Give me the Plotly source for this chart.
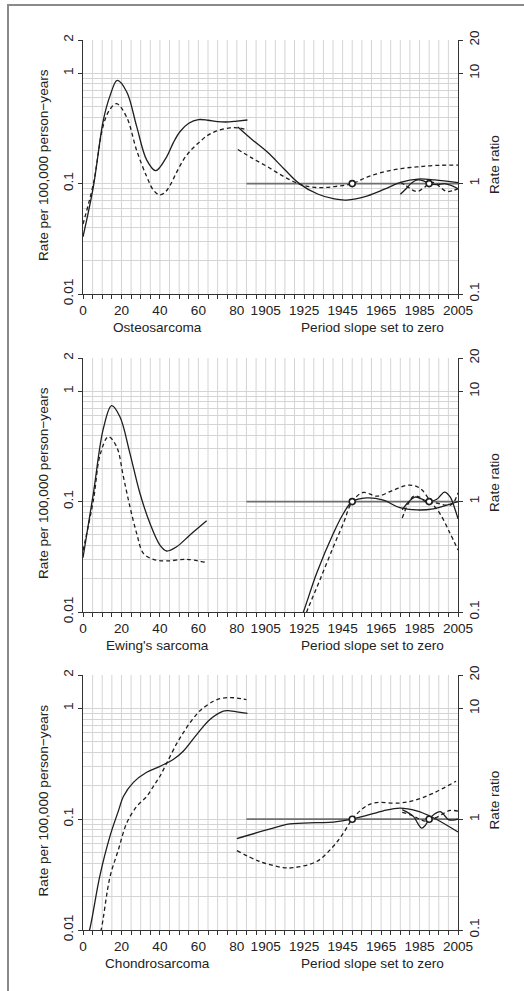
import plotly.graph_objects as go

# ---------------- data ----------------
age_ticks = [0, 20, 40, 60, 80]
year_ticks = [1905, 1925, 1945, 1965, 1985, 2005]
rate_ticks = [0.01, 0.1, 1, 2]
rate_tick_text = ["0.01", "0.1", "1", "2"]
rr_ticks = [0.1, 1, 10, 20]
rr_tick_text = ["0.1", "1", "10", "20"]
ref_years = [1950, 1990]          # cohort and period reference points
ref_span = [1895, 2005]           # extent of the rate-ratio = 1 line

panel_names = ["Osteosarcoma", "Ewing's sarcoma", "Chondrosarcoma"]
right_caption = "Period slope set to zero"
rate_title = "Rate per 100,000 person\u2212years"
rr_title = "Rate ratio"

# Osteosarcoma: age (rate), cohort and period (rate ratio); a = solid, b = dashed
os_age_a_x = [0, 5.4, 10.6, 14, 17.8, 22.7, 27.9, 33.1, 37.8, 43.5, 47, 50.4, 55, 60, 65, 70, 76, 80, 85.5]
os_age_a_y = [0.033, 0.094, 0.377, 0.62, 0.86, 0.68, 0.33, 0.164, 0.131, 0.175, 0.235, 0.295, 0.352, 0.38, 0.375, 0.364, 0.362, 0.368, 0.377]
os_age_b_x = [0, 5.4, 10.6, 14, 17.5, 22.7, 27.9, 33.1, 36.5, 39.7, 42.5, 45.2, 48.5, 52.2, 56, 60.8, 65, 69.5, 76.4, 80.8, 85.6]
os_age_b_y = [0.043, 0.10, 0.34, 0.47, 0.53, 0.40, 0.20, 0.116, 0.088, 0.079, 0.083, 0.096, 0.125, 0.164, 0.2, 0.24, 0.275, 0.3, 0.32, 0.32, 0.306]
os_coh_a_x = [1890.5, 1898, 1906, 1914.7, 1922.5, 1932, 1940.7, 1947, 1958, 1966.8, 1975.5, 1984.2, 1992.9, 2005]
os_coh_a_y = [3.26, 2.5, 1.92, 1.35, 1.0, 0.805, 0.726, 0.71, 0.776, 0.89, 1.03, 1.10, 1.08, 1.02]
os_coh_b_x = [1890.5, 1898, 1906, 1914.7, 1923.4, 1932, 1940.7, 1950, 1958, 1966.8, 1975.5, 1984.2, 1992.9, 2005]
os_coh_b_y = [2.04, 1.7, 1.42, 1.15, 0.98, 0.92, 0.94, 1.0, 1.15, 1.28, 1.37, 1.42, 1.46, 1.47]
os_per_a_x = [1975, 1978, 1981, 1984, 1987, 1990, 1994, 1998, 2001, 2005]
os_per_a_y = [0.80, 0.90, 1.02, 1.08, 1.06, 1.0, 0.98, 1.0, 0.97, 0.9]
os_per_b_x = [1975, 1978, 1981, 1984, 1987, 1990, 1993, 1996, 1999, 2002, 2005]
os_per_b_y = [1.03, 0.96, 0.88, 0.85, 0.91, 1.0, 1.02, 0.92, 0.85, 0.86, 0.9]

# Ewing's sarcoma
ew_age_a_x = [0, 5.4, 10.6, 14.9, 19.2, 24.4, 29.6, 34.8, 40, 43.5, 48.7, 55.6, 64.3]
ew_age_a_y = [0.031, 0.119, 0.46, 0.74, 0.587, 0.274, 0.119, 0.0636, 0.0404, 0.0357, 0.039, 0.0498, 0.067]
ew_age_b_x = [0, 5.4, 9, 13.2, 17.5, 21, 24.4, 27.9, 31.4, 36.6, 43.5, 53.9, 64.3]
ew_age_b_y = [0.036, 0.103, 0.27, 0.387, 0.314, 0.168, 0.090, 0.0516, 0.034, 0.030, 0.029, 0.030, 0.028]
ew_coh_a_x = [1918, 1924.6, 1931.5, 1940.2, 1945.4, 1950, 1957.5, 1966.2, 1974.8, 1983.5, 1992.2, 2000.9, 2005]
ew_coh_a_y = [0.05, 0.1, 0.224, 0.516, 0.78, 1.0, 1.08, 1.03, 0.88, 0.84, 0.86, 0.95, 1.0]
ew_coh_b_x = [1920, 1926.3, 1933.2, 1940.2, 1945.4, 1950, 1955.8, 1962.8, 1971.4, 1979.2, 1985.3, 1991.3, 1995.6, 2000.8, 2005]
ew_coh_b_y = [0.05, 0.1, 0.195, 0.39, 0.635, 1.0, 1.21, 1.12, 1.27, 1.41, 1.32, 0.97, 0.78, 0.52, 0.365]
ew_per_a_x = [1976, 1979, 1982.6, 1986, 1990, 1994, 1998, 2001, 2003, 2005]
ew_per_a_y = [0.84, 0.98, 1.1, 1.06, 1.0, 1.05, 1.22, 1.1, 0.9, 0.7]
ew_per_b_x = [1976, 1979, 1982, 1985, 1988, 1990, 1994, 1998, 2001, 2003, 2005]
ew_per_b_y = [0.71, 0.95, 1.12, 1.1, 1.0, 1.0, 0.97, 0.93, 0.93, 1.0, 1.2]

# Chondrosarcoma
ch_age_a_x = [2, 3.4, 8.8, 14, 18.5, 21, 26.2, 33.1, 40, 46.9, 52.1, 59.1, 66, 73, 76.4, 80, 85.5]
ch_age_a_y = [0.0085, 0.01, 0.031, 0.07, 0.12, 0.16, 0.215, 0.265, 0.30, 0.345, 0.41, 0.58, 0.795, 0.946, 0.95, 0.93, 0.90]
ch_age_b_x = [8, 9.4, 14, 18.4, 22.7, 27.9, 33.1, 36.6, 40, 43.5, 48.7, 52.1, 55.6, 60.8, 67.8, 72, 76.4, 80, 85]
ch_age_b_y = [0.0085, 0.01, 0.030, 0.053, 0.092, 0.13, 0.16, 0.198, 0.244, 0.32, 0.48, 0.60, 0.74, 0.95, 1.16, 1.23, 1.25, 1.24, 1.2]
ch_coh_a_x = [1890, 1905.5, 1917.6, 1931.5, 1940.2, 1950, 1957.5, 1966.2, 1974.8, 1983.5, 1992.2, 2005]
ch_coh_a_y = [0.667, 0.80, 0.905, 0.93, 0.94, 1.0, 1.08, 1.19, 1.26, 1.19, 1.03, 0.766]
ch_coh_b_x = [1890, 1902, 1914, 1919.2, 1931.5, 1940.2, 1945.4, 1950, 1955.8, 1961, 1974.8, 1983.5, 1992.2, 2004]
ch_coh_b_y = [0.52, 0.415, 0.366, 0.365, 0.415, 0.57, 0.75, 1.0, 1.26, 1.40, 1.40, 1.5, 1.72, 2.2]
ch_per_a_x = [1976, 1981.8, 1984, 1986.1, 1988, 1990, 1993, 1995.8, 1998, 2000, 2002.5, 2005]
ch_per_a_y = [1.22, 1.06, 0.92, 0.83, 0.88, 1.0, 1.12, 1.17, 1.08, 0.99, 0.98, 1.0]
ch_per_b_x = [1976, 1980, 1984, 1988, 1990, 1994, 1998, 2001, 2005]
ch_per_b_y = [1.15, 1.1, 1.02, 0.96, 1.0, 1.04, 1.14, 1.2, 1.18]

panels = [
    dict(age=[(os_age_a_x, os_age_a_y), (os_age_b_x, os_age_b_y)],
         cal=[(os_coh_a_x, os_coh_a_y), (os_coh_b_x, os_coh_b_y),
              (os_per_a_x, os_per_a_y), (os_per_b_x, os_per_b_y)]),
    dict(age=[(ew_age_a_x, ew_age_a_y), (ew_age_b_x, ew_age_b_y)],
         cal=[(ew_coh_a_x, ew_coh_a_y), (ew_coh_b_x, ew_coh_b_y),
              (ew_per_a_x, ew_per_a_y), (ew_per_b_x, ew_per_b_y)]),
    dict(age=[(ch_age_a_x, ch_age_a_y), (ch_age_b_x, ch_age_b_y)],
         cal=[(ch_coh_a_x, ch_coh_a_y), (ch_coh_b_x, ch_coh_b_y),
              (ch_per_a_x, ch_per_a_y), (ch_per_b_x, ch_per_b_y)]),
]

# ---------------- layout geometry (pixels) ----------------
W, H = 524, 991
PX_L, PX_R = 83, 458
PX_T, PX_B = 40, 930
panel_top = [40, 358, 675]
panel_bot = [294, 612, 930]
AGE_RANGE = [0, 195]
CAL_RANGE = [1810, 2005]
RATE_RANGE = [0.01, 2]

FONT = "Liberation Sans, Arial, Helvetica, sans-serif"
FS = 13.6
INK = "#222222"
GRID = "#d4d4d4"
LINE = "#1e1e1e"


def fx(px):
    return (px - PX_L) / (PX_R - PX_L)


def fy(py):
    return 1 - (py - PX_T) / (PX_B - PX_T)


def axis_id(letter, n):
    return letter if n == 1 else f"{letter}{n}"


rate_grid = [m * 10 ** e for e in (-2, -1) for m in range(2, 10)]
age_grid = list(range(0, 81, 5))
cal_grid = list(range(1895, 2006, 5))
# vertical grid every 5 units across the whole frame (age part + calendar part)
frame_grid = list(range(AGE_RANGE[0] + 5, AGE_RANGE[1], 5))

fig = go.Figure()
layout = dict(
    width=W, height=H,
    margin=dict(l=PX_L, r=W - PX_R, t=PX_T, b=H - PX_B, pad=0),
    paper_bgcolor="white", plot_bgcolor="white",
    showlegend=False,
    font=dict(family=FONT, size=FS, color=INK),
)
annotations = []
shapes = []

tick_common = dict(ticks="outside", ticklen=4, tickwidth=1, tickcolor="#333333",
                   tickfont=dict(family=FONT, size=FS, color=INK), zeroline=False)

for p, pan in enumerate(panels):
    a, c = 2 * p + 1, 2 * p + 2
    xa, xc = axis_id("x", a), axis_id("x", c)
    ya, yc = axis_id("y", a), axis_id("y", c)
    dom = [fy(panel_bot[p]), fy(panel_top[p])]

    layout[f"xaxis{a}"] = dict(
        domain=[0, 1], range=AGE_RANGE, anchor=ya,
        tickmode="array", tickvals=age_grid,
        ticktext=[str(v) if v in age_ticks else "" for v in age_grid],
        tickangle=0, showline=True, linecolor="#333333", linewidth=1,
        showgrid=False, **tick_common)
    layout[f"xaxis{c}"] = dict(
        overlaying=xa, range=CAL_RANGE, anchor=ya, side="bottom",
        tickmode="array", tickvals=cal_grid,
        ticktext=[str(v) if v in year_ticks else "" for v in cal_grid],
        tickangle=0, showline=False, showgrid=False, **tick_common)
    layout[f"yaxis{a}"] = dict(
        type="log", domain=dom, range=[-2, 0.30103], anchor=xa,
        tickmode="array", tickvals=rate_ticks, ticktext=rate_tick_text,
        tickangle=-90, showline=True, linecolor="#333333", linewidth=1,
        showgrid=True, gridcolor=GRID, gridwidth=1,
        minor=dict(tickmode="array", tickvals=rate_grid, showgrid=True,
                   gridcolor=GRID, gridwidth=1, ticks=""),
        **tick_common)
    layout[f"yaxis{c}"] = dict(
        type="log", overlaying=ya, side="right", anchor=xa,
        range=[-1, 1.30103],
        tickmode="array", tickvals=rr_ticks, ticktext=rr_tick_text,
        tickangle=-90, showline=True, linecolor="#333333", linewidth=1,
        showgrid=False, **tick_common)

    # vertical grid lines drawn as one broken line trace, under every curve
    gx, gy = [], []
    for v in frame_grid:
        gx += [v, v, None]
        gy += [RATE_RANGE[0], RATE_RANGE[1], None]
    fig.add_trace(go.Scatter(x=gx, y=gy, xaxis=xa, yaxis=ya, mode="lines",
                             line=dict(color=GRID, width=1), hoverinfo="skip",
                             connectgaps=False))

    # reference line at rate ratio 1
    fig.add_trace(go.Scatter(x=ref_span, y=[1, 1], xaxis=xc, yaxis=yc, mode="lines",
                             line=dict(color="#6f6f6f", width=1.8), hoverinfo="skip"))
    # age effects
    for k, (xs, ys) in enumerate(pan["age"]):
        fig.add_trace(go.Scatter(
            x=xs, y=ys, xaxis=xa, yaxis=ya, mode="lines",
            line=dict(color=LINE, width=1.3, shape="spline", smoothing=1.0,
                      dash="solid" if k == 0 else "4px,3px")))
    # cohort and period effects
    for k, (xs, ys) in enumerate(pan["cal"]):
        fig.add_trace(go.Scatter(
            x=xs, y=ys, xaxis=xc, yaxis=yc, mode="lines",
            line=dict(color=LINE, width=1.3, shape="spline", smoothing=1.0,
                      dash="solid" if k % 2 == 0 else "4px,3px")))
    # reference points
    fig.add_trace(go.Scatter(x=ref_years, y=[1, 1], xaxis=xc, yaxis=yc, mode="markers",
                             marker=dict(symbol="circle", size=6, color="white",
                                         line=dict(color=LINE, width=1.6))))

    mid = (panel_top[p] + panel_bot[p]) / 2
    annotations += [
        dict(text=panel_names[p], xref="paper", yref="paper", x=fx(157),
             y=fy(panel_bot[p] + 33.5), xanchor="center", yanchor="middle",
             showarrow=False, font=dict(family=FONT, size=FS, color=INK)),
        dict(text=right_caption, xref="paper", yref="paper", x=fx(372),
             y=fy(panel_bot[p] + 33.5), xanchor="center", yanchor="middle",
             showarrow=False, font=dict(family=FONT, size=FS, color=INK)),
        dict(text=rate_title, xref="paper", yref="paper", x=fx(43), y=fy(mid - 2),
             xanchor="center", yanchor="middle", textangle=-90,
             showarrow=False, font=dict(family=FONT, size=FS, color=INK)),
        dict(text=rr_title, xref="paper", yref="paper", x=fx(494), y=fy(mid - 2),
             xanchor="center", yanchor="middle", textangle=-90,
             showarrow=False, font=dict(family=FONT, size=FS, color=INK)),
    ]

# outer frame (top and left edges)
shapes += [
    dict(type="line", xref="paper", yref="paper", x0=fx(7), x1=fx(W + 2), y0=fy(5), y1=fy(5),
         line=dict(color="#8a8a8a", width=2)),
    dict(type="line", xref="paper", yref="paper", x0=fx(8), x1=fx(8), y0=fy(4), y1=fy(H + 2),
         line=dict(color="#8a8a8a", width=2)),
]

layout["annotations"] = annotations
layout["shapes"] = shapes
fig.update_layout(**layout)
fig.write_html("out.html")
